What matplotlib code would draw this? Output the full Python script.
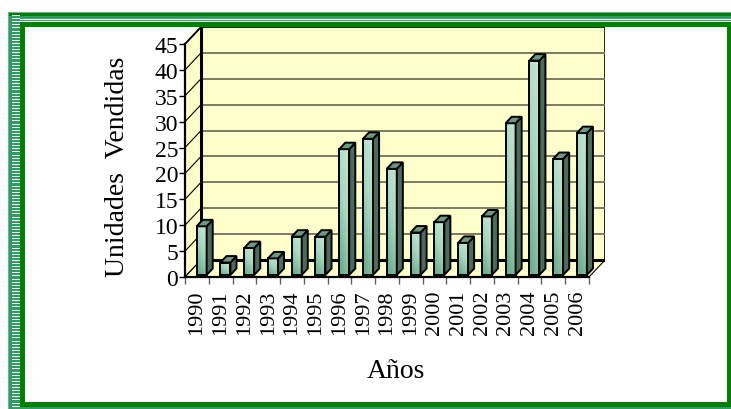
import numpy as np
import matplotlib.pyplot as plt
from matplotlib.patches import Polygon, Rectangle
from matplotlib.colors import LinearSegmentedColormap

years = ['1990', '1991', '1992', '1993', '1994', '1995', '1996', '1997', '1998',
         '1999', '2000', '2001', '2002', '2003', '2004', '2005', '2006']
ventas = [9.4, 2.4, 5.2, 3.2, 7.4, 7.4, 24.3, 26.3, 20.5, 8.2, 10.2, 6.2, 11.3,
          29.3, 41.4, 22.4, 27.4]
yticks = [0, 5, 10, 15, 20, 25, 30, 35, 40, 45]

plt.rcParams['font.family'] = ['Liberation Serif', 'DejaVu Serif']

W, H = 731, 410
fig = plt.figure(figsize=(W / 100, H / 100), dpi=100)

# decorative frame (pixel coords)
bg = fig.add_axes([0, 0, 1, 1])
bg.set_xlim(0, W)
bg.set_ylim(H, 0)
bg.axis('off')
bg.add_patch(Rectangle((8, 13), W - 8, H - 13, color='#66b888', lw=0))
bg.add_patch(Rectangle((9, 14), W - 9, H - 14, color='#339966', lw=0))
bg.add_patch(Rectangle((9, 14), W - 9, 2.5, color='#008000', lw=0))
bg.plot([20, W], [19.5, 19.5], color='white', lw=0.8)
bg.plot([20, W], [21.8, 21.8], color='white', lw=0.6)
for yy in np.arange(16, 408, 3.1):
    bg.plot([11.5, 18.5], [yy, yy], color='white', lw=0.7)
bg.add_patch(Rectangle((20, 22.5), W - 20, 385.5, color='#008000', lw=0))
bg.add_patch(Rectangle((24.5, 28), 702.5, 375, color='white', lw=0))

# main chart: front plane 0..17 over px 185..589, 0..45 over px 278..45
n = len(years)
pxc = 404 / n
pxv = 233 / 45
ddx = 16 / pxc
ddy = 17 / pxv
left_px, right_px, bot_px, top_px = 185, 605, 278, 28
ax = fig.add_axes([left_px / W, (H - bot_px) / H,
                   (right_px - left_px) / W, (bot_px - top_px) / H])
ax.set_facecolor('none')
ymax = yticks[-1]

wall = '#ffffcc'
# left wall
ax.add_patch(Polygon([(0, 0), (ddx, ddy), (ddx, ymax + ddy), (0, ymax)],
                     closed=True, fc=wall, ec='black', lw=1.0, zorder=1))
# floor
ax.add_patch(Polygon([(0, 0), (n, 0), (n + ddx, ddy), (ddx, ddy)],
                     closed=True, fc=wall, ec='black', lw=0.8, zorder=1))
# back wall
ax.add_patch(Rectangle((ddx, ddy), n, ymax, fc=wall, ec='black', lw=1.2, zorder=1))
for v in yticks[1:-1]:
    ax.plot([ddx, n + ddx], [v + ddy, v + ddy], color='#707060', lw=1.3, zorder=2)
    ax.plot([0, ddx], [v, v + ddy], color='black', lw=0.8, zorder=2)
ax.plot([0, ddx], [ymax, ymax + ddy], color='black', lw=1.2, zorder=2)
ax.plot([ddx, n + ddx], [ddy, ddy], color='black', lw=2.2, zorder=2)
ax.plot([ddx, ddx], [ddy, ymax + ddy], color='black', lw=2.2, zorder=2)

# bars with pseudo 3D faces
f0 = 0.12
bd = 0.38
bw = 0.42
xs = np.arange(n) + 0.41 + f0 * ddx
base = f0 * ddy
cmap = LinearSegmentedColormap.from_list('g', ['#c4e6d6', '#a8d6c0', '#6fae90'])
grad = np.linspace(0, 1, 64).reshape(-1, 1) * 0.8 + np.linspace(0.3, 0, 16).reshape(1, -1)
bars = ax.bar(xs, ventas, width=bw, bottom=base, align='edge',
              color='#a8d6c0', edgecolor='black', lw=1.4, zorder=4)
for b, x, v in zip(bars, xs, ventas):
    im = ax.imshow(grad, cmap=cmap, vmin=0, vmax=1, origin='upper',
                   extent=[x, x + bw, base, base + v], aspect='auto', zorder=4)
    im.set_clip_path(b)
    b.set_facecolor('none')
    b.set_zorder(5)
    xr = x + bw
    ax.add_patch(Polygon([(xr, base), (xr + bd * ddx, base + bd * ddy),
                          (xr + bd * ddx, base + v + bd * ddy), (xr, base + v)],
                         closed=True, fc='#4b6b5b', ec='black', lw=1.4, zorder=5))
    ax.add_patch(Polygon([(x, base + v), (xr, base + v),
                          (xr + bd * ddx, base + v + bd * ddy),
                          (x + bd * ddx, base + v + bd * ddy)],
                         closed=True, fc='#6e9a84', ec='black', lw=1.4, zorder=5))

ax.set_xlim(0, n + ddx)
ax.set_ylim(0, ymax + ddy)

for s in ['top', 'right']:
    ax.spines[s].set_visible(False)
ax.spines['left'].set_bounds(0, ymax)
ax.spines['bottom'].set_bounds(0, n)
ax.spines['left'].set_linewidth(1.6)
ax.spines['bottom'].set_linewidth(1.6)
ax.spines['left'].set_zorder(6)
ax.spines['bottom'].set_zorder(6)

ax.set_yticks(yticks)
ax.set_yticklabels([str(t) for t in yticks], fontsize=17)
ax.tick_params(axis='y', direction='out', length=4, width=1, pad=1)
ax.set_xticks(np.arange(n + 1))
ax.set_xticklabels([])
ax.tick_params(axis='x', which='major', direction='out', length=5, width=1,
               color='#606060')
ax.set_xticks(np.arange(n) + 0.5, minor=True)
ax.set_xticklabels(years, minor=True, rotation=90, fontsize=16)
ax.tick_params(axis='x', which='minor', length=0, pad=9)

fig.text(396 / W, 1 - 372 / H, 'Años', fontsize=20, ha='center', va='center')
fig.text(117 / W, 1 - 167 / H, 'Unidades  Vendidas', fontsize=20, rotation=90,
         ha='center', va='center')

fig.savefig('out.png', dpi=100)
